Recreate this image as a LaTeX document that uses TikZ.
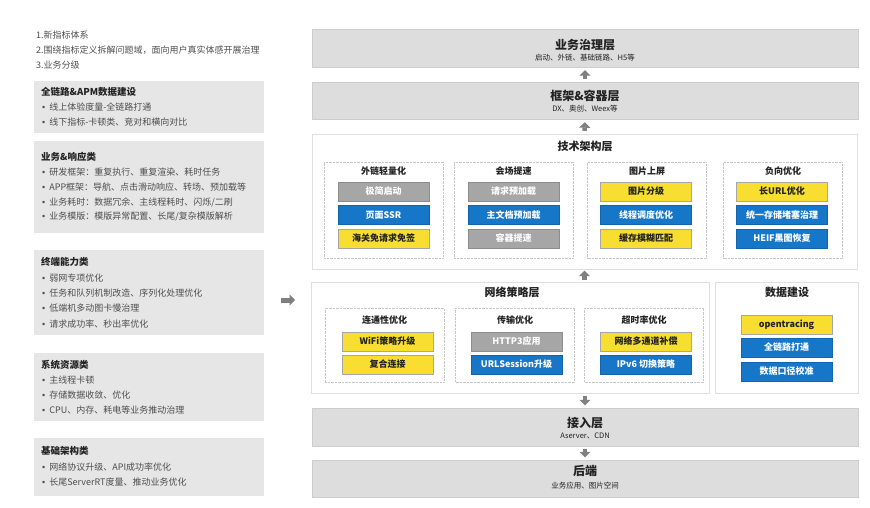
\documentclass[tikz,border=0pt]{standalone}
\usepackage{fontspec}
\setmainfont{Noto Sans CJK SC}
\newfontfamily\latinf{Liberation Sans}
\usepackage{tikz}
\usepackage{xcolor}
\usetikzlibrary{arrows.meta,positioning}
\definecolor{barfill}{RGB}{221,221,221}
\definecolor{barline}{RGB}{205,205,205}
\definecolor{leftfill}{RGB}{230,230,230}
\definecolor{btngray}{RGB}{166,166,166}
\definecolor{btnblue}{RGB}{22,118,200}
\definecolor{btnyellow}{RGB}{248,222,48}
\definecolor{ink}{RGB}{34,34,34}
\definecolor{arrgray}{RGB}{128,128,128}
\newcommand{\bul}{{\latinf •}\hspace{4pt}}

\begin{document}
\begin{tikzpicture}[x=1pt,y=-1pt,
  bar/.style={draw=barline,fill=barfill,minimum width=546pt,inner sep=0pt},
  lbox/.style={fill=leftfill,minimum width=230pt,inner sep=0pt},
  panel/.style={draw=gray!25,fill=white,inner sep=0pt},
  grp/.style={draw=gray!45,densely dotted,fill=white,minimum width=119pt,inner sep=0pt},
  btn/.style={minimum width=91pt,minimum height=19pt,inner sep=0pt,
              font=\fontsize{9}{10}\selectfont\bfseries},
  gbtn/.style={btn,fill=btngray,draw=btngray!85!black,text=white},
  bbtn/.style={btn,fill=btnblue,draw=btnblue!85!black,text=white},
  ybtn/.style={btn,fill=btnyellow,draw=gray!70,text=ink},
  bigttl/.style={font=\fontsize{12}{14}\selectfont\bfseries,text=ink,inner sep=0pt},
  midttl/.style={font=\fontsize{11}{13}\selectfont\bfseries,text=ink,inner sep=0pt},
  grpttl/.style={font=\fontsize{9}{11}\selectfont\bfseries,text=ink,inner sep=0pt},
  sub/.style={font=\fontsize{7.5}{9}\selectfont,text=ink,inner sep=0pt},
  ltxt/.style={anchor=west,font=\fontsize{9}{11}\selectfont,text=ink!80,inner sep=0pt},
  lttl/.style={ltxt,font=\fontsize{9.5}{11}\selectfont\bfseries,text=ink},
  blk/.style={arrgray,line width=4.5pt,-{Triangle[width=11pt,length=5.5pt]}}]

\useasboundingbox (0,0) rectangle (870,508);

% ------------- left column -------------
\node[ltxt] (h1) at (36,35) {1.新指标体系};
\node[ltxt] (h2) at (36,50) {2.围绕指标定义拆解问题域，面向用户真实体感开展治理};
\node[ltxt] (h3) at (36,65) {3.业务分级};

\node[lbox,minimum height=52pt] (L1) at (149,107) {};
\node[lttl] (L1t) at (41,92) {全链路\&APM数据建设};
\node[ltxt] (L1a) at (42,107) {\bul 线上体验度量-全链路打通};
\node[ltxt] (L1b) at (42,122) {\bul 线下指标-卡顿类、竞对和横向对比};

\node[lbox,minimum height=92pt] (L2) at (149,187) {};
\node[lttl] (L2t) at (41,157) {业务\&响应类};
\node[ltxt] (L2a) at (42,172) {\bul 研发框架：重复执行、重复渲染、耗时任务};
\node[ltxt] (L2b) at (42,187) {\bul APP框架：导航、点击滑动响应、转场、预加载等};
\node[ltxt] (L2c) at (42,202) {\bul 业务耗时：数据冗余、主线程耗时、闪烁/二刷};
\node[ltxt] (L2d) at (42,217) {\bul 业务模版：模版异常配置、长尾/复杂模版解析};

\node[lbox,minimum height=85pt] (L3) at (149,292.5) {};
\node[lttl] (L3t) at (41,262) {终端能力类};
\node[ltxt] (L3a) at (42,278) {\bul 弱网专项优化};
\node[ltxt] (L3b) at (42,293) {\bul 任务和队列机制改造、序列化处理优化};
\node[ltxt] (L3c) at (42,308) {\bul 低端机多动图卡慢治理};
\node[ltxt] (L3d) at (42,324) {\bul 请求成功率、秒出率优化};

\node[lbox,minimum height=68pt] (L4) at (149,387) {};
\node[lttl] (L4t) at (41,365) {系统资源类};
\node[ltxt] (L4a) at (42,380) {\bul 主线程卡顿};
\node[ltxt] (L4b) at (42,395) {\bul 存储数据收敛、优化};
\node[ltxt] (L4c) at (42,410) {\bul CPU、内存、耗电等业务推动治理};

\node[lbox,minimum height=58pt] (L5) at (149,467) {};
\node[lttl] (L5t) at (41,451) {基础架构类};
\node[ltxt] (L5a) at (42,467) {\bul 网络协议升级、API成功率优化};
\node[ltxt] (L5b) at (42,482) {\bul 长尾ServerRT度量、推动业务优化};

\coordinate (pin) at (281,300);
\coordinate (pout) at (295,300);
\draw[blk,line width=5pt] (pin) -- (pout);

% ------------- layers -------------
\node[bar,minimum height=38pt] (gov) at (585,48) {};
\node[bigttl] (govT) at (585,45) {业务治理层};
\node[sub] (govS) at (585,58) {启动、外链、基础链路、H5等};

\node[bar,minimum height=37pt] (fw) at (585,100.5) {};
\node[bigttl] (fwT) at (585,96) {框架\&容器层};
\node[sub] (fwS) at (585,109) {DX、奥创、Weex等};

\draw[blk,shorten <=3pt,shorten >=3pt] (fw.north) -- (gov.south);

% ------------- tech -------------
\node[panel,minimum width=545pt,minimum height=135pt] (tech) at (584.5,201.5) {};
\node[midttl] (techT) at (585,146) {技术架构层};
\draw[blk,shorten <=3pt,shorten >=3pt] (tech.north) -- (fw.south);

\node[grp,minimum height=96pt] (g1) at (383.5,210) {};
\node[grpttl] (g1t) at (383.5,171) {外链轻量化};
\node[gbtn] (g1a) at (383.5,191.5) {极简启动};
\node[bbtn] (g1b) at (383.5,215) {页面SSR};
\node[ybtn] (g1c) at (383.5,238.5) {海关免请求免签};

\node[grp,minimum height=96pt] (g2) at (513.5,210) {};
\node[grpttl] (g2t) at (513.5,171) {会场提速};
\node[gbtn] (g2a) at (513.5,191.5) {请求预加载};
\node[bbtn] (g2b) at (513.5,215) {主文档预加载};
\node[gbtn] (g2c) at (513.5,238.5) {容器提速};

\node[grp,minimum height=96pt] (g3) at (647,210) {};
\node[grpttl] (g3t) at (647,171) {图片上屏};
\node[ybtn] (g3a) at (646,191.5) {图片分级};
\node[bbtn] (g3b) at (646,215) {线程调度优化};
\node[ybtn] (g3c) at (646,238.5) {缓存模糊匹配};

\node[grp,minimum height=96pt] (g4) at (783,210) {};
\node[grpttl] (g4t) at (783,171) {负向优化};
\node[ybtn] (g4a) at (782,191.5) {长URL优化};
\node[bbtn] (g4b) at (782,215) {统一存储堵塞治理};
\node[bbtn] (g4c) at (782,238.5) {HEIF黑图恢复};

% ------------- network -------------
\node[panel,minimum width=398pt,minimum height=111pt] (net) at (510,337.5) {};
\node[midttl] (netT) at (512,292) {网络策略层};
\draw[blk,shorten <=1.5pt,shorten >=1.5pt] (tech.south |- net.north) -- (tech.south);

\node[grp,minimum height=74pt] (n1) at (384.5,345) {};
\node[grpttl] (n1t) at (384.5,320) {连通性优化};
\node[ybtn] (n1a) at (387.5,341.5) {WiFi策略升级};
\node[ybtn] (n1b) at (387.5,364.5) {复合连接};

\node[grp,minimum height=74pt] (n2) at (515,345) {};
\node[grpttl] (n2t) at (515,320) {传输优化};
\node[gbtn] (n2a) at (516.5,341.5) {HTTP3应用};
\node[bbtn] (n2b) at (516.5,364.5) {URLSession升级};

\node[grp,minimum height=74pt] (n3) at (644,345) {};
\node[grpttl] (n3t) at (644,320) {超时率优化};
\node[ybtn] (n3a) at (646,341.5) {网络多通道补偿};
\node[bbtn] (n3b) at (646,364.5) {IPv6 切换策略};

% ------------- data -------------
\node[panel,minimum width=143pt,minimum height=111pt] (dat) at (786.5,337.5) {};
\node[midttl] (datT) at (787,292) {数据建设};
\node[ybtn] (d1) at (786.5,324.5) {opentracing};
\node[bbtn] (d2) at (786.5,347.5) {全链路打通};
\node[bbtn] (d3) at (786.5,371.5) {数据口径校准};

% ------------- access / backend -------------
\node[bar,minimum height=38pt] (acc) at (585,427) {};
\node[bigttl] (accT) at (585,422.5) {接入层};
\node[sub] (accS) at (585,436) {Aserver、CDN};

\node[bar,minimum height=37pt] (back) at (585,478.5) {};
\node[bigttl] (backT) at (585,471) {后端};
\node[sub] (backS) at (585,486) {业务应用、图片空间};

\draw[blk,shorten <=3pt,shorten >=2.5pt] (acc.north |- net.south) -- (acc.north);
\draw[blk,shorten <=3pt,shorten >=2.5pt] (acc.south) -- (back.north);

\end{tikzpicture}
\end{document}
